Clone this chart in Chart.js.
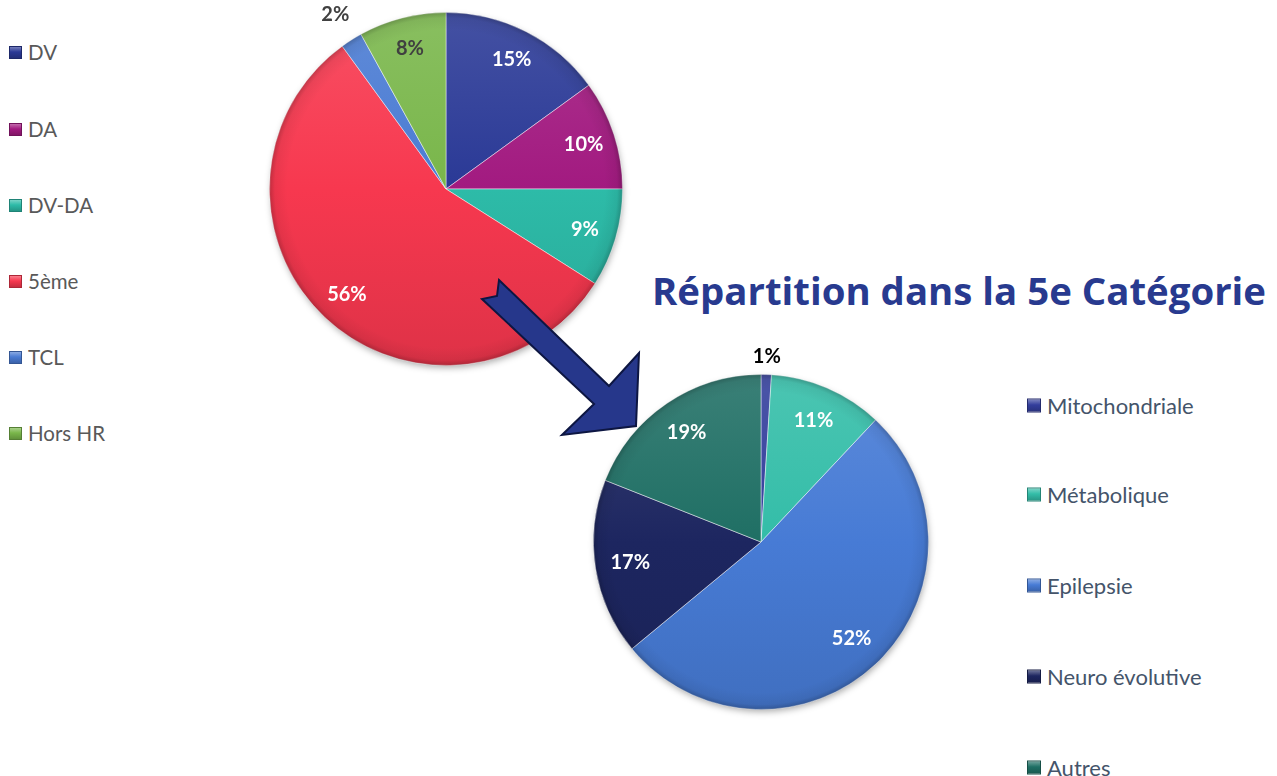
<!DOCTYPE html>
<html><head><meta charset="utf-8">
<script src="https://cdn.jsdelivr.net/npm/chart.js@4.4.1/dist/chart.umd.min.js"></script>
<style>
html,body{margin:0;padding:0;background:#fff;}
body{width:1277px;height:776px;overflow:hidden;position:relative;font-family:Lato,"Liberation Sans",sans-serif;}
canvas{position:absolute;}
.legend{position:absolute;left:0;top:0;margin:0;padding:0;list-style:none;}
.legend li{position:absolute;display:flex;align-items:center;white-space:nowrap;transform:translateY(-50%);}
.legend .box{display:inline-block;margin-right:6px;box-sizing:border-box;}
#title{position:absolute;left:652px;top:271px;font-family:"Open Sans",sans-serif;font-weight:700;font-size:38px;line-height:38px;color:#283a8f;white-space:nowrap;transform-origin:0 0;}
#arrow{position:absolute;left:0;top:0;z-index:5;}
</style></head>
<body>
<canvas id="pie1" width="400" height="380" style="left:246px;top:0px;"></canvas>
<canvas id="pie2" width="400" height="400" style="left:561px;top:342px;"></canvas>
<svg id="arrow" width="1277" height="776"><polygon points="499,280 609,386 639,353 636,426 562,435 594,404 482,299 497,296" fill="#26378b" stroke="#0d1642" stroke-width="2" stroke-linejoin="miter"/></svg>
<div id="title">Répartition dans la 5e Catégorie</div>
<ul class="legend" id="leg1"></ul>
<ul class="legend" id="leg2"></ul>
<script>
// ---- data ----
const mainLabels = ['DV', 'DA', 'DV-DA', '5ème', 'TCL', 'Hors HR'];
const mainValues = [15, 10, 9, 56, 2, 8];
const subLabels = ['Mitochondriale', 'Métabolique', 'Epilepsie', 'Neuro évolutive', 'Autres'];
const subValues = [1, 11, 52, 17, 19];

// ---- styles ----
const mainColors = ['#2a3996', '#a21a80', '#2dbba8', '#f7384f', '#4a7bd3', '#79b64a'];
const subColors = ['#333e9c', '#33bda8', '#477bd5', '#1d2660', '#1f6f64'];
const mainLabelColors = ['#ffffff', '#ffffff', '#ffffff', '#ffffff', '#404040', '#404040'];
const subLabelColors = ['#000000', '#ffffff', '#ffffff', '#ffffff', '#ffffff'];

function shade(hex, f) {
  const n = parseInt(hex.slice(1), 16);
  let r = n >> 16, g = (n >> 8) & 255, b = n & 255;
  if (f > 0) { r += (255 - r) * f; g += (255 - g) * f; b += (255 - b) * f; }
  else { r *= 1 + f; g *= 1 + f; b *= 1 + f; }
  return 'rgb(' + Math.round(r) + ',' + Math.round(g) + ',' + Math.round(b) + ')';
}
function fillFor(colors) {
  return (ctx) => {
    const c = colors[ctx.dataIndex];
    const a = ctx.chart.chartArea;
    if (!a) return c;
    const g = ctx.chart.ctx.createLinearGradient(0, a.top, 0, a.bottom);
    g.addColorStop(0, shade(c, 0.12));
    g.addColorStop(0.5, c);
    g.addColorStop(1, shade(c, -0.1));
    return g;
  };
}

const piePlugin = {
  id: 'pieDeco',
  beforeDatasetsDraw(chart) {
    const arc = chart.getDatasetMeta(0).data[0];
    if (!arc) return;
    const ctx = chart.ctx;
    ctx.save();
    ctx.shadowColor = 'rgba(0,0,0,0.35)';
    ctx.shadowBlur = 7;
    ctx.shadowOffsetX = 1;
    ctx.shadowOffsetY = 3;
    ctx.fillStyle = '#ffffff';
    ctx.beginPath();
    ctx.arc(arc.x, arc.y, arc.outerRadius - 1, 0, Math.PI * 2);
    ctx.fill();
    ctx.restore();
  },
  afterDatasetsDraw(chart, args, opts) {
    const meta = chart.getDatasetMeta(0);
    const ctx = chart.ctx;
    const first = meta.data[0];
    ctx.save();
    const R = first.outerRadius;
    const g = ctx.createRadialGradient(first.x, first.y, 0, first.x, first.y, R);
    g.addColorStop(0, 'rgba(0,0,0,0)');
    g.addColorStop(0.9, 'rgba(0,0,0,0)');
    g.addColorStop(0.97, 'rgba(0,0,0,0.06)');
    g.addColorStop(1, 'rgba(0,0,0,0.22)');
    ctx.fillStyle = g;
    ctx.beginPath();
    ctx.arc(first.x, first.y, R, 0, Math.PI * 2);
    ctx.fill();
    ctx.restore();
    const values = chart.data.datasets[0].data;
    ctx.save();
    ctx.font = 'bold 20px Lato, sans-serif';
    ctx.textAlign = 'center';
    ctx.textBaseline = 'middle';
    meta.data.forEach((el, i) => {
      const mid = (el.startAngle + el.endAngle) / 2;
      const f = values[i] < 5 ? opts.outside : opts.inside;
      const x = el.x + Math.cos(mid) * el.outerRadius * f;
      const y = el.y + Math.sin(mid) * el.outerRadius * f;
      ctx.fillStyle = opts.colors[i];
      ctx.fillText(values[i] + '%', x, y);
    });
    ctx.restore();
  }
};

function makePie(id, labels, values, colors, labelColors, padding, inside, outside) {
  return new Chart(document.getElementById(id), {
    type: 'pie',
    data: {
      labels: labels,
      datasets: [{
        data: values,
        backgroundColor: fillFor(colors),
        borderColor: 'rgba(255,255,255,0.45)',
        borderWidth: 1
      }]
    },
    options: {
      responsive: false,
      animation: false,
      devicePixelRatio: 1,
      layout: { padding: padding },
      plugins: {
        legend: { display: false },
        tooltip: { enabled: false },
        pieDeco: { colors: labelColors, inside: inside, outside: outside }
      }
    },
    plugins: [piePlugin]
  });
}

const c1 = makePie('pie1', mainLabels, mainValues, mainColors, mainLabelColors,
  { left: 23, right: 23, top: 12, bottom: 14 }, 0.82, 1.17);
const c2 = makePie('pie2', subLabels, subValues, subColors, subLabelColors,
  { left: 32, right: 32, top: 32, bottom: 32 }, 0.79, 1.11);

function buildLegend(elId, chart, colors, x, ys, fontSize, boxSize, textColor) {
  const ul = document.getElementById(elId);
  chart.data.labels.forEach((lab, i) => {
    const li = document.createElement('li');
    li.style.left = x + 'px';
    li.style.top = ys[i] + 'px';
    li.style.fontSize = fontSize + 'px';
    li.style.color = textColor;
    const box = document.createElement('span');
    box.className = 'box';
    box.style.width = boxSize + 'px';
    box.style.height = boxSize + 'px';
    const c = colors[i];
    box.style.background = 'linear-gradient(180deg,' + shade(c, 0.35) + ' 0%,' + c + ' 45%,' + shade(c, -0.2) + ' 100%)';
    box.style.border = '1px solid ' + shade(c, -0.3);
    li.appendChild(box);
    li.appendChild(document.createTextNode(lab));
    ul.appendChild(li);
  });
}
buildLegend('leg1', c1, mainColors, 9, [52, 129, 205, 281, 357, 433], 20.5, 13, '#595959');
buildLegend('leg2', c2, subColors, 1027, [405, 494, 585, 676, 767], 22, 14, '#44546a');

const t = document.getElementById('title');
const w = t.getBoundingClientRect().width;
t.style.transform = 'scaleX(' + (614 / w) + ')';
</script>
</body></html>
